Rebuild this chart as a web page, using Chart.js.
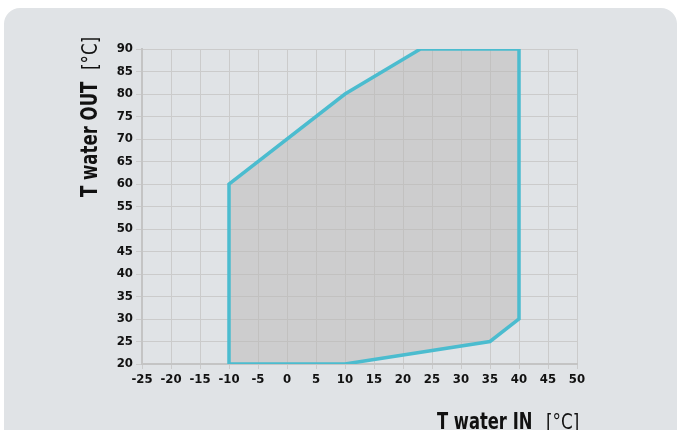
<!DOCTYPE html>
<html>
<head>
<meta charset="utf-8">
<script src="https://cdn.jsdelivr.net/npm/chart.js@4.4.1/dist/chart.umd.min.js"></script>
<style>
  html, body { margin: 0; padding: 0; background: #ffffff; width: 678px; height: 430px; overflow: hidden; }
  .panel { position: absolute; left: 4px; top: 8px; width: 673px; height: 450px; background: #e0e3e6; border-radius: 16px; }
  canvas { position: absolute; left: 0; top: 0; }
</style>
</head>
<body>
<div class="panel"></div>
<canvas id="envelope" width="678" height="430"></canvas>
<script>
// operating envelope
const waterIn  = [-10, -10, 10, 23, 40, 40, 35, 10, -10];
const waterOut = [ 20,  60, 80, 90, 90, 30, 25, 20,  20];

const xRange = { min: -25, max: 50, step: 5 };
const yRange = { min: 20, max: 90, step: 5 };

const xTitle = ['T water IN', '[°C]'];
const yTitle = ['T water OUT', '[°C]'];

const fam = '"DejaVu Sans Condensed", sans-serif';
const tickFont = { family: fam, size: 13, weight: 'bold' };
const gridColor = '#cbcbcb';

// condensed text: squeeze horizontally so the titles keep their height
function squeezed(ctx, text, x, y, font, sx) {
    ctx.save();
    ctx.translate(x, y);
    ctx.scale(sx, 1);
    ctx.font = font;
    ctx.fillText(text, 0, 0);
    ctx.restore();
}

// axis titles: bold name + light unit
const axisTitles = {
    id: 'axisTitles',
    afterDraw(chart) {
        const ctx = chart.ctx;
        const boldF = 'bold 23px ' + fam;
        const lightF = '22px ' + fam;
        ctx.save();
        ctx.fillStyle = '#111111';
        ctx.textBaseline = 'alphabetic';
        ctx.textAlign = 'left';

        // x title, bottom right
        squeezed(ctx, xTitle[0], 437, 429, boldF, 0.79);
        squeezed(ctx, xTitle[1], 546, 429, lightF, 0.85);

        // y title, rotated
        ctx.translate(97, 197);
        ctx.rotate(-Math.PI / 2);
        squeezed(ctx, yTitle[0], 0, 0, boldF, 0.8);
        squeezed(ctx, yTitle[1], 127, 0, lightF, 0.85);
        ctx.restore();
    }
};

new Chart(document.getElementById('envelope'), {
    type: 'scatter',
    data: {
        datasets: [{
            data: waterIn.map((x, i) => ({ x, y: waterOut[i] })),
            showLine: true,
            borderColor: '#4bbccf',
            borderWidth: 3.5,
            backgroundColor: 'rgba(185,184,182,0.5)',
            fill: 'shape',
            pointRadius: 0,
            tension: 0,
            borderJoinStyle: 'miter',
        }],
    },
    options: {
        responsive: false,
        animation: false,
        layout: { padding: { left: 0, right: 101, top: 49, bottom: 0 } },
        plugins: { legend: { display: false }, tooltip: { enabled: false } },
        scales: {
            x: {
                type: 'linear', min: xRange.min, max: xRange.max,
                ticks: { stepSize: xRange.step, color: '#111', font: tickFont, padding: 3, maxRotation: 0 },
                grid: { color: gridColor, lineWidth: 1, tickLength: 5, tickColor: gridColor },
                border: { color: '#c4c4c4', width: 2 },
                afterFit: s => { s.height = 66; },
            },
            y: {
                type: 'linear', min: yRange.min, max: yRange.max,
                ticks: { stepSize: yRange.step, color: '#111', font: tickFont, padding: 3 },
                grid: { color: gridColor, lineWidth: 1, tickLength: 6, tickColor: gridColor },
                border: { color: '#c4c4c4', width: 2 },
                afterFit: s => { s.width = 142; },
            },
        },
    },
    plugins: [axisTitles],
});
</script>
</body>
</html>
